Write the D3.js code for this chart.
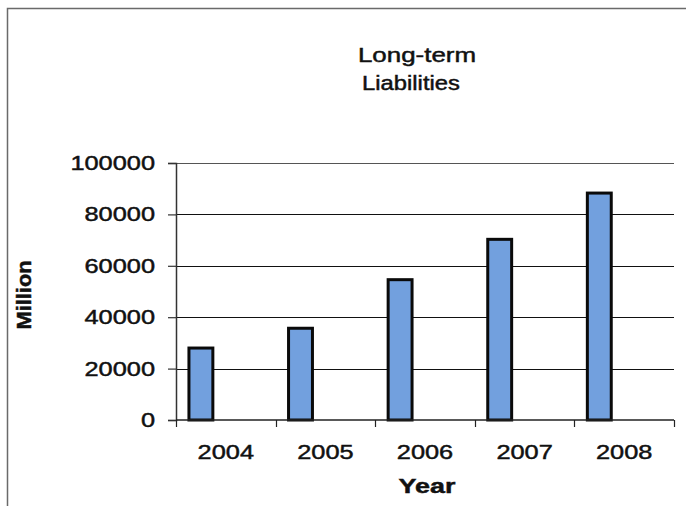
<!DOCTYPE html>
<html>
<head>
<meta charset="utf-8">
<script src="https://cdn.jsdelivr.net/npm/d3@7"></script>
<style>
  html, body { margin: 0; padding: 0; background: #fff; }
  svg { display: block; }
  text { font-family: "Liberation Sans", Arial, sans-serif; fill: #111; stroke: #111; stroke-width: 0.45px; }
</style>
</head>
<body>
<svg id="chart" width="686" height="506"></svg>
<script>
// Long-term liabilities by year (million)
const years = ["2004", "2005", "2006", "2007", "2008"];
const liabilities = [28000, 35700, 54600, 70300, 88300];
const yTicks = [0, 20000, 40000, 60000, 80000, 100000];
const titleLines = ["Long-term", "Liabilities"];
const xTitle = "Year";
const yTitle = "Million";

const svg = d3.select("#chart");
const plot = { left: 176, right: 674, top: 163, bottom: 420 };
const stretch = 1.3; // horizontal widening applied to the lettering

const x = d3.scaleBand().domain(years).range([plot.left, plot.right]).padding(0);
const y = d3.scaleLinear().domain([0, 100000]).range([plot.bottom, plot.top]);

// frame of the chart area (left and top edges)
svg.append("path")
  .attr("d", "M7.5,506 L7.5,8.5 L686,8.5")
  .attr("fill", "none").attr("stroke", "#6a6a6a").attr("stroke-width", 1.5);

// title
svg.selectAll("text.title").data(titleLines).join("text")
  .attr("class", "title")
  .attr("text-anchor", "middle")
  .attr("font-size", 19.5)
  .attr("transform", (d, i) => `translate(${[417, 411][i]},${62 + i * 28}) scale(${[1.33, 1.22][i]},1)`)
  .text(d => d);

// horizontal gridlines
svg.append("g").selectAll("line").data(yTicks.filter(v => v > 0)).join("line")
  .attr("x1", plot.left).attr("x2", plot.right)
  .attr("y1", d => Math.round(y(d)) + 0.5).attr("y2", d => Math.round(y(d)) + 0.5)
  .attr("stroke", d => d === 100000 ? "#555" : "#111").attr("stroke-width", 1.2);

// y axis
const yAxis = svg.append("g")
  .attr("transform", `translate(${plot.left},0)`)
  .call(d3.axisLeft(y).tickValues(yTicks).tickSize(8).tickFormat(""));
yAxis.select(".domain").attr("stroke", "#333").attr("stroke-width", 1.5);
yAxis.selectAll(".tick line").attr("stroke", "#333").attr("stroke-width", 1.2);

svg.selectAll("text.ytick").data(yTicks).join("text")
  .attr("class", "ytick")
  .attr("text-anchor", "end")
  .attr("font-size", 19.5)
  .attr("transform", d => `translate(155,${y(d) + 7}) scale(${stretch},1)`)
  .text(d => d3.format("d")(d));

// bars: each sits in the left part of its year band
const bw = x.bandwidth();
svg.append("g").selectAll("rect").data(years).join("rect")
  .attr("x", d => x(d) + bw * 0.13)
  .attr("width", bw * 0.24)
  .attr("y", (d, i) => y(liabilities[i]))
  .attr("height", (d, i) => plot.bottom - y(liabilities[i]))
  .attr("fill", "#72a0de")
  .attr("stroke", "#0a0a0a").attr("stroke-width", 3);

// x axis with ticks at the band boundaries
const xb = svg.append("g");
xb.append("line")
  .attr("x1", plot.left).attr("x2", plot.right)
  .attr("y1", plot.bottom).attr("y2", plot.bottom)
  .attr("stroke", "#222").attr("stroke-width", 1.5);
xb.selectAll("line.tick").data(years.concat(["end"])).join("line")
  .attr("class", "tick")
  .attr("x1", (d, i) => Math.round(plot.left + i * bw) + 0.5)
  .attr("x2", (d, i) => Math.round(plot.left + i * bw) + 0.5)
  .attr("y1", plot.bottom).attr("y2", plot.bottom + 7)
  .attr("stroke", "#222").attr("stroke-width", 1.2);

svg.selectAll("text.xtick").data(years).join("text")
  .attr("class", "xtick")
  .attr("text-anchor", "middle")
  .attr("font-size", 19.5)
  .attr("transform", d => `translate(${x(d) + bw / 2},459) scale(${stretch},1)`)
  .text(d => d);

// axis titles
svg.append("text")
  .attr("text-anchor", "middle")
  .attr("font-size", 19.5).attr("font-weight", "bold")
  .attr("transform", `translate(427,493) scale(1.38,1)`)
  .text(xTitle);

svg.append("text")
  .attr("text-anchor", "middle")
  .attr("font-size", 19).attr("font-weight", "bold")
  .attr("transform", `translate(31,295) rotate(-90) scale(1.15,1.05)`)
  .text(yTitle);
</script>
</body>
</html>
